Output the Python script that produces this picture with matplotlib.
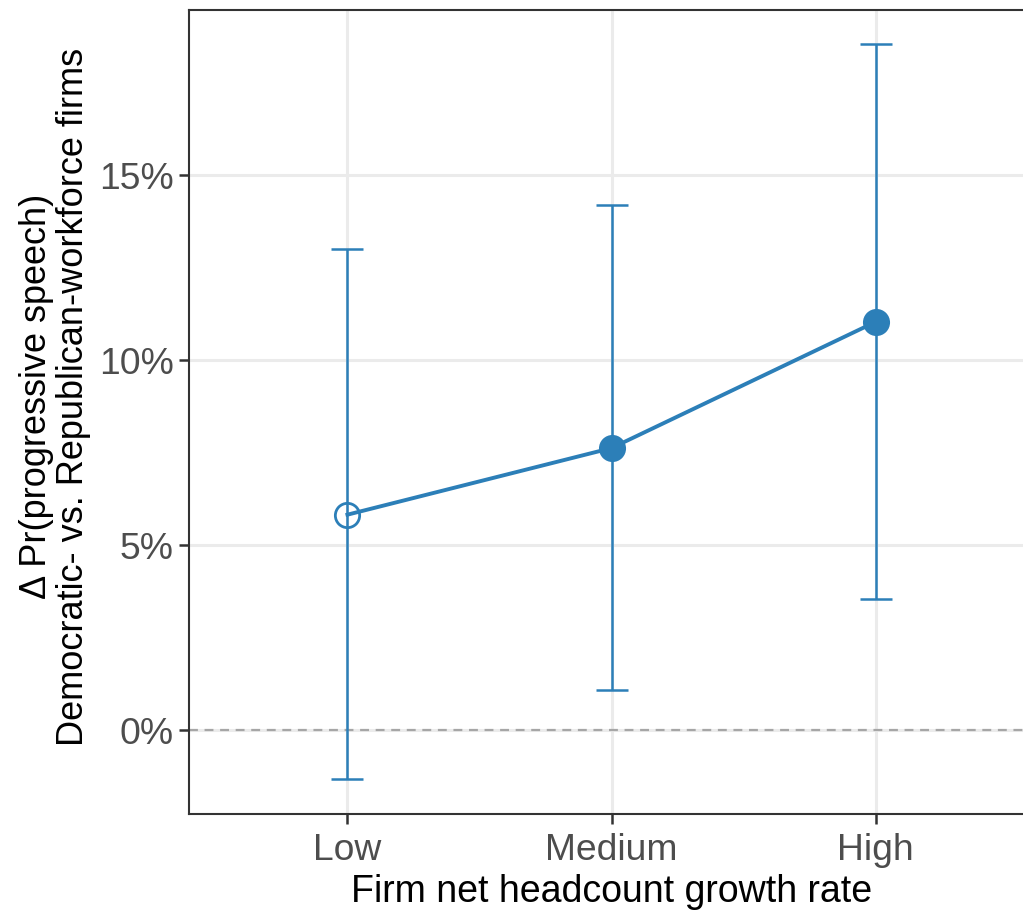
import matplotlib
matplotlib.use("Agg")
import matplotlib.pyplot as plt
from matplotlib.ticker import FuncFormatter

# Estimated difference in progressive-speech probability, by growth tercile
categories = ["Low", "Medium", "High"]
estimate = [5.82, 7.62, 11.03]          # percent
ci_low = [-1.32, 1.08, 3.54]
ci_high = [13.00, 14.19, 18.54]
significant = [False, True, True]

y_ticks = [0, 5, 10, 15]

color = "#2C7FB8"
plt.rcParams["font.family"] = ["Liberation Sans", "DejaVu Sans"]

fig = plt.figure(figsize=(10.23, 9.14), dpi=100)
ax = fig.add_axes([189 / 1023, 100 / 914, 845 / 1023, 804 / 914])

x = list(range(1, len(categories) + 1))

# grid
for yt in y_ticks:
    ax.axhline(yt, color="#ebebeb", lw=2.2, zorder=0)
for xi in x:
    ax.axvline(xi, color="#ebebeb", lw=2.2, zorder=0)
ax.axhline(0, color="#a6a6a6", lw=1.6, ls=(0, (4, 3)), zorder=1)

# confidence intervals
ax.errorbar(x, estimate,
            yerr=[[e - l for e, l in zip(estimate, ci_low)],
                  [h - e for e, h in zip(estimate, ci_high)]],
            fmt="none", ecolor=color, elinewidth=1.8, capsize=11.5,
            capthick=1.8, zorder=2)

# connecting line
ax.plot(x, estimate, color=color, lw=2.8, zorder=3)

# points: filled when significant, hollow otherwise
for xi, e, s in zip(x, estimate, significant):
    if s:
        ax.plot(xi, e, "o", ms=19.5, mec=color, mew=0, mfc=color, zorder=4)
    else:
        ax.plot(xi, e, "o", ms=17.5, mec=color, mew=2.0, mfc="none", zorder=4)

ax.set_xlim(0.4, 3.6)
ax.set_ylim(-2.27, 19.46)
ax.set_xticks(x)
ax.set_xticklabels(categories)
ax.set_yticks(y_ticks)
ax.yaxis.set_major_formatter(FuncFormatter(lambda v, p: f"{v:.0f}%"))

ax.tick_params(axis="both", length=7, width=1.8, color="#333333",
               labelsize=26.8, labelcolor="#4d4d4d", pad=4)
ax.tick_params(axis="x", pad=7)

for side in ["left", "right", "top", "bottom"]:
    ax.spines[side].set_color("#333333")
    ax.spines[side].set_linewidth(1.5)

ax.set_xlabel("Firm net headcount growth rate", fontsize=27, color="black",
              labelpad=4)
ax.set_ylabel("Δ Pr(progressive speech)\nDemocratic- vs. Republican-workforce firms",
              fontsize=26, color="black", labelpad=6, linespacing=1.05)
ax.yaxis.label.set_y(0.519)

fig.savefig("out.png", dpi=100)
